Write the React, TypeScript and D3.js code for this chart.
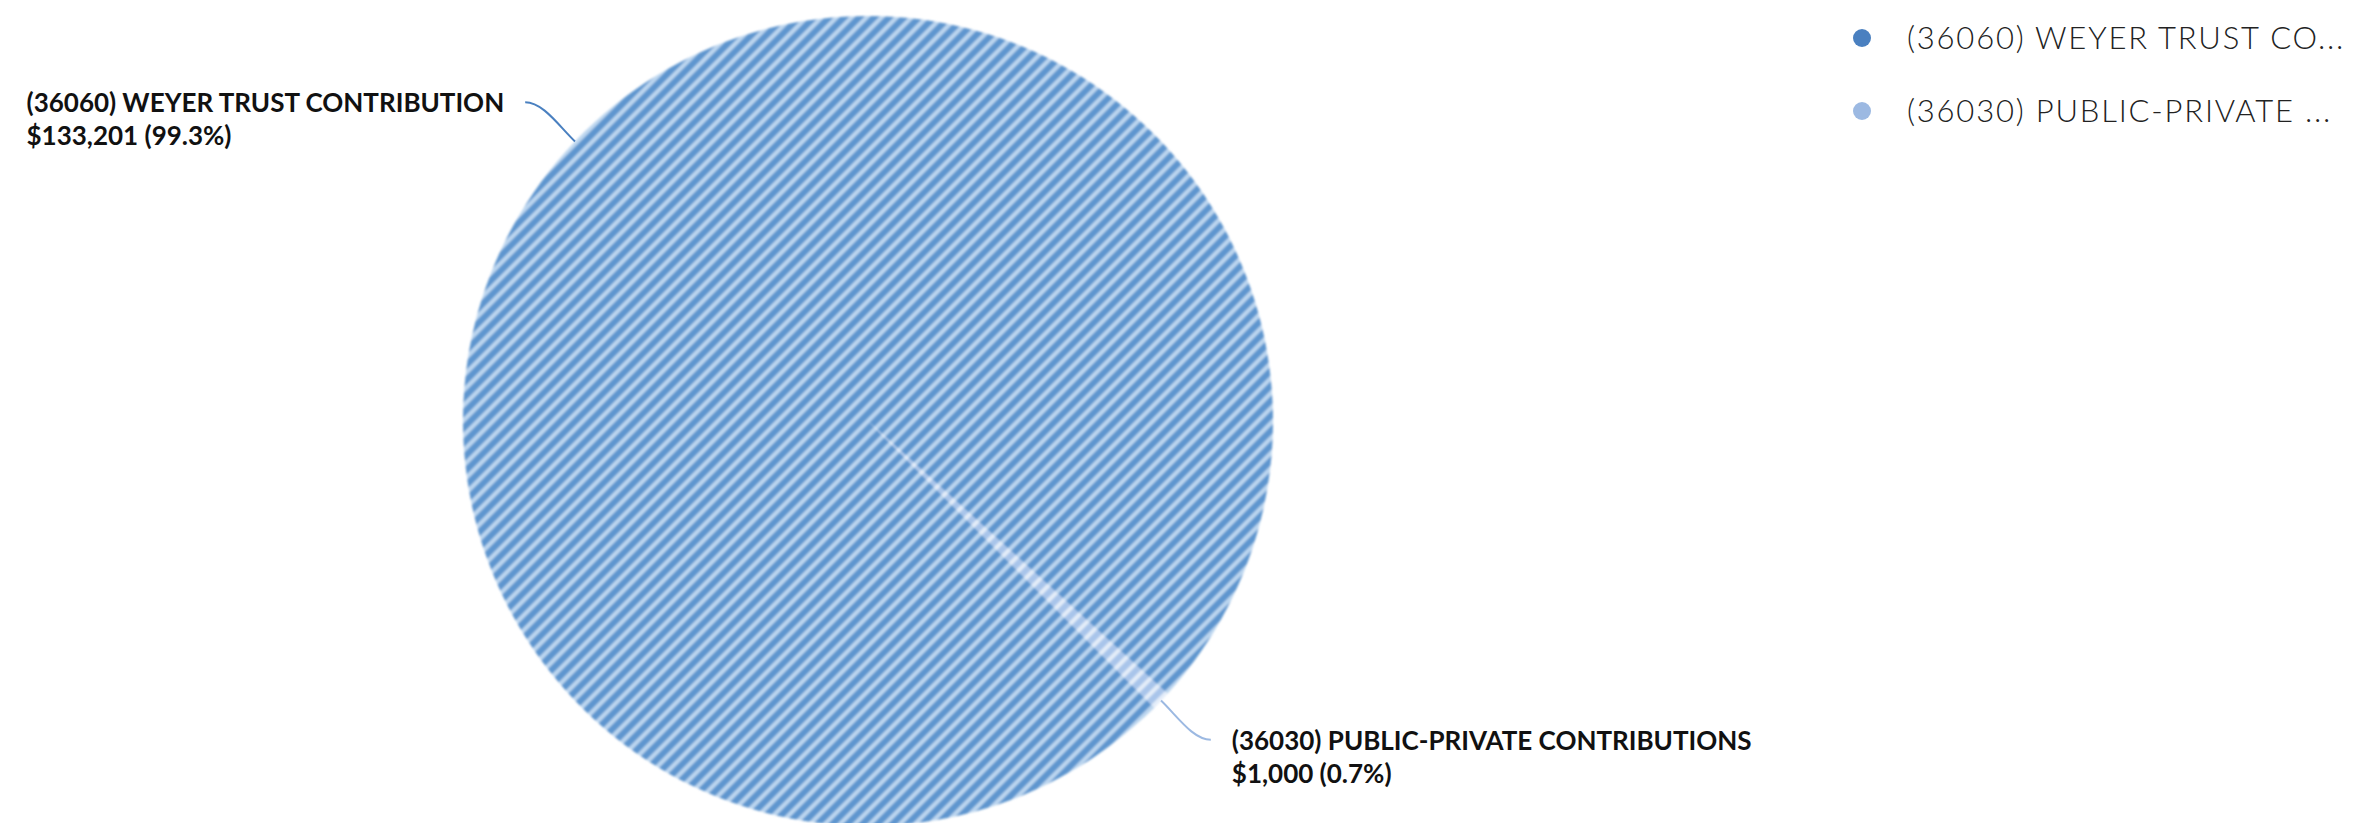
import React, { useLayoutEffect, useRef, useState } from "react";
import * as d3 from "d3";

// Revenue sources and their amounts
const categories = [
  "(36060) WEYER TRUST CONTRIBUTION",
  "(36030) PUBLIC-PRIVATE CONTRIBUTIONS",
];
const legendLabels = ["(36060) WEYER TRUST CO...", "(36030) PUBLIC-PRIVATE ..."];
const amounts = [133201, 1000];
const dotColors = ["#4a80c0", "#9cb9e2"];
const hatchBase = ["#5f96cf", "#a9c5ea"];
const hatchStripe = ["#bcd6ef", "#e4edf9"];

const W = 2360;
const H = 823;
const cx = 868;
const cy = 421;
const radius = 405;
const startDeg = 135;

const fmtMoney = d3.format("$,");
const fmtPct = d3.format(".1%");

function Label({
  lines,
  anchorX,
  anchorY,
  side,
}: {
  lines: string[];
  anchorX: number;
  anchorY: number;
  side: number;
}) {
  const ref = useRef<SVGTextElement>(null);
  const [w, setW] = useState(0);
  useLayoutEffect(() => {
    if (ref.current) setW(ref.current.getBBox().width);
  }, [lines.join("|")]);
  const gap = 21;
  const x = side > 0 ? anchorX + gap : anchorX - gap - w;
  return (
    <text
      ref={ref}
      fontFamily="Lato, 'Open Sans', sans-serif"
      fontWeight={700}
      fontSize={26}
      fill="#111"
    >
      {lines.map((l, i) => (
        <tspan key={i} x={x} y={anchorY + 10 + i * 33}>
          {l}
        </tspan>
      ))}
    </text>
  );
}

export default function App() {
  const total = d3.sum(amounts);
  const pie = d3
    .pie<number>()
    .sort(null)
    .value((d) => d)
    .startAngle((startDeg * Math.PI) / 180)
    .endAngle(((startDeg + 360) * Math.PI) / 180);
  const arcs = pie(amounts);
  const arcGen = d3.arc<d3.PieArcDatum<number>>().innerRadius(0).outerRadius(radius);

  return (
    <svg
      width={W}
      height={H}
      style={{ position: "absolute", left: 0, top: 0, background: "#fff" }}
    >
      <defs>
        {amounts.map((_, i) => (
          <pattern
            key={i}
            id={`hatch${i}`}
            patternUnits="userSpaceOnUse"
            width={15}
            height={15}
          >
            <rect width={15} height={15} fill={hatchBase[i]} />
            <path
              d="M0,15 L15,0 M-3.75,3.75 L3.75,-3.75 M11.25,18.75 L18.75,11.25"
              stroke={hatchStripe[i]}
              strokeWidth={4.2}
            />
          </pattern>
        ))}
        <filter id="soft" x="-5%" y="-5%" width="110%" height="110%">
          <feGaussianBlur stdDeviation={1} />
        </filter>
      </defs>

      <g transform={`translate(${cx},${cy})`} filter="url(#soft)">
        {arcs.map((a, i) => (
          <path key={i} d={arcGen(a) || ""} fill={`url(#hatch${i})`} />
        ))}
      </g>

      {arcs.map((a, i) => {
        const mid = (a.startAngle + a.endAngle) / 2;
        const sx = Math.sin(mid);
        const sy = -Math.cos(mid);
        const ex = cx + radius * sx;
        const ey = cy + radius * sy;
        const tx = cx + radius * 1.17 * sx;
        const ty = cy + radius * 1.14 * sy;
        const side = sx >= 0 ? 1 : -1;
        const d = `M${ex},${ey} C${ex + sx * 22},${ey + sy * 22} ${tx - side * 18},${ty} ${tx},${ty}`;
        return (
          <g key={i}>
            <path d={d} fill="none" stroke={dotColors[i]} strokeWidth={2} />
            <Label
              lines={[
                categories[i],
                `${fmtMoney(amounts[i])} (${fmtPct(amounts[i] / total)})`,
              ]}
              anchorX={tx}
              anchorY={ty}
              side={side}
            />
          </g>
        );
      })}

      {legendLabels.map((l, i) => (
        <g key={i} transform={`translate(1862,${38 + i * 73})`}>
          <circle r={9} fill={dotColors[i]} />
          <text
            x={45}
            dy="0.36em"
            fontFamily="Lato, 'Open Sans', sans-serif"
            fontWeight={300}
            fontSize={31}
            letterSpacing={1.8}
            fill="#222"
          >
            {l}
          </text>
        </g>
      ))}
    </svg>
  );
}
